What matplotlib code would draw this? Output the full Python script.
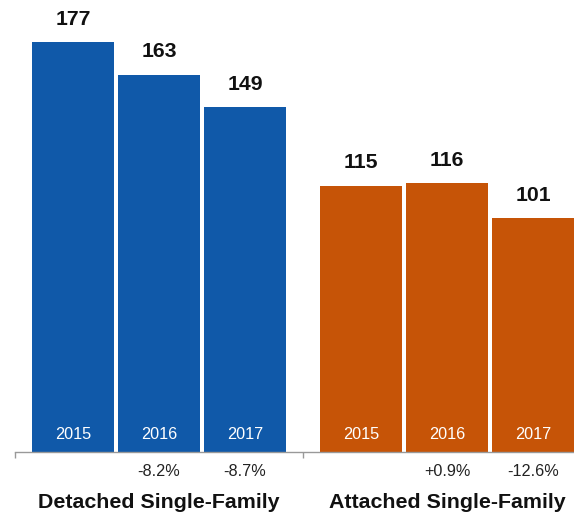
import numpy as np
import matplotlib
matplotlib.use("Agg")
import matplotlib.pyplot as plt

plt.rcParams['font.family'] = ['Liberation Sans', 'DejaVu Sans']

# data
groups = ['Detached Single-Family', 'Attached Single-Family']
years = ['2015', '2016', '2017']
detached = [177, 163, 149]
attached = [115, 116, 101]
detached_chg = ['', '-8.2%', '-8.7%']
attached_chg = ['', '+0.9%', '-12.6%']
colors = ['#1059a9', '#c65407']

series = [detached, attached]
changes = [detached_chg, attached_chg]

W, H = 574, 517
fig = plt.figure(figsize=(W / 100, H / 100), dpi=100)
# axes run past the right edge, the last bar is clipped as in the reference
ax = fig.add_axes([15 / W, 65 / H, 576 / W, 452 / H])
ax.set_xlim(0, 2)
ax.set_ylim(0, 195.2)

step = 0.2986
width = 0.288
offsets = np.array([-1, 0, 1]) * step

for g, (vals, chg, col) in enumerate(zip(series, changes, colors)):
    xs = g + 0.5 + offsets
    ax.bar(xs, vals, width=width, color=col, linewidth=0)
    for x, v, yr, c in zip(xs, vals, years, chg):
        ax.annotate(str(v), (x, v), xytext=(0, 16.5), textcoords='offset points',
                    ha='center', va='center', fontsize=15.3, fontweight='bold',
                    color='#111111')
        ax.annotate(yr, (x, 0), xytext=(0, 12.3), textcoords='offset points',
                    ha='center', va='center', fontsize=11.7, color='white')
        if c:
            ax.annotate(c, (x, 0), xytext=(0, -14), textcoords='offset points',
                        ha='center', va='center', fontsize=11.7, color='#222222',
                        annotation_clip=False)
    ax.annotate(groups[g], (g + 0.5, 0), xytext=(0, -36.7), textcoords='offset points',
                ha='center', va='center', fontsize=15.4, fontweight='bold',
                color='#111111', annotation_clip=False)

for s in ['top', 'right', 'left']:
    ax.spines[s].set_visible(False)
ax.spines['bottom'].set_color('#999999')
ax.spines['bottom'].set_linewidth(1)
ax.set_xticks([0, 1, 2])
ax.set_xticklabels([])
ax.tick_params(axis='x', direction='out', length=4.3, width=1, color='#999999')
ax.set_yticks([])

fig.savefig('out.png', dpi=100)
